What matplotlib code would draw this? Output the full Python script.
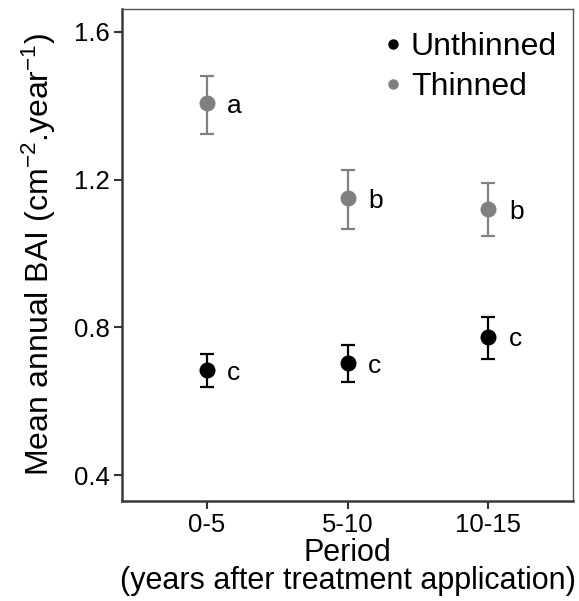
import numpy as np
import matplotlib
matplotlib.use("Agg")
import matplotlib.pyplot as plt
from matplotlib.lines import Line2D

plt.rcParams['font.family'] = ['Liberation Sans', 'DejaVu Sans']
plt.rcParams['mathtext.fontset'] = 'custom'
plt.rcParams['mathtext.rm'] = 'Liberation Sans'
plt.rcParams['mathtext.it'] = 'Liberation Sans'

periods = ["0-5", "5-10", "10-15"]
unthinned_mean = [0.684, 0.704, 0.775]
unthinned_low = [0.639, 0.652, 0.714]
unthinned_high = [0.728, 0.752, 0.828]
thinned_mean = [1.408, 1.149, 1.121]
thinned_low = [1.324, 1.067, 1.046]
thinned_high = [1.481, 1.226, 1.192]
unthinned_letters = ["c", "c", "c"]
thinned_letters = ["a", "b", "b"]

fig = plt.figure(figsize=(5.79, 6.01), dpi=100)
ax = fig.add_axes([122 / 579, 1 - 500.5 / 601, 451 / 579, 491.5 / 601])

x = np.arange(1, len(periods) + 1)

def draw(mean, low, high, letters, color, label, dx):
    mean = np.array(mean)
    err = [mean - np.array(low), np.array(high) - mean]
    ax.errorbar(x, mean, yerr=err, fmt='o', color=color, ecolor=color,
                markersize=10.5, elinewidth=1.6, capsize=4.8, capthick=1.6,
                label=label, zorder=3)
    for xi, yi, s in zip(x, mean, letters):
        ax.text(xi + dx, yi - 0.008, s, fontsize=19, ha='left', va='center')

draw(unthinned_mean, unthinned_low, unthinned_high, unthinned_letters, 'black', 'Unthinned', 0.145)
draw(thinned_mean, thinned_low, thinned_high, thinned_letters, '#808080', 'Thinned', 0.145)

ax.set_xlim(0.4, 3.6)
ax.set_ylim(0.331, 1.662)
ax.set_xticks(x)
ax.set_xticklabels(periods)
ax.set_yticks([0.4, 0.8, 1.2, 1.6])
ax.set_yticklabels(["0.4", "0.8", "1.2", "1.6"])
ax.tick_params(axis='both', labelsize=18.5, length=6, width=1.5, color='#333333', pad=3)

for side in ['left', 'bottom']:
    ax.spines[side].set_linewidth(1.8)
    ax.spines[side].set_color('#3a3a3a')
for side in ['top', 'right']:
    ax.spines[side].set_linewidth(1.0)
    ax.spines[side].set_color('#555555')

ax.set_ylabel("Mean annual BAI (cm$^{-2}$.year$^{-1}$)", fontsize=23, labelpad=11)
ax.set_xlabel("Period\n(years after treatment application)", fontsize=22,
              labelpad=1, linespacing=0.88)

handles = [Line2D([], [], marker='o', ls='', color='black', markersize=6.5),
           Line2D([], [], marker='o', ls='', color='#808080', markersize=6.5)]
ax.legend(handles, ['Unthinned', 'Thinned'], loc='upper right', frameon=False,
          fontsize=23, handletextpad=0.05, handlelength=1.0, labelspacing=0.3,
          borderaxespad=0.1, bbox_to_anchor=(1.0, 0.985))

fig.savefig("out.png", dpi=100)
